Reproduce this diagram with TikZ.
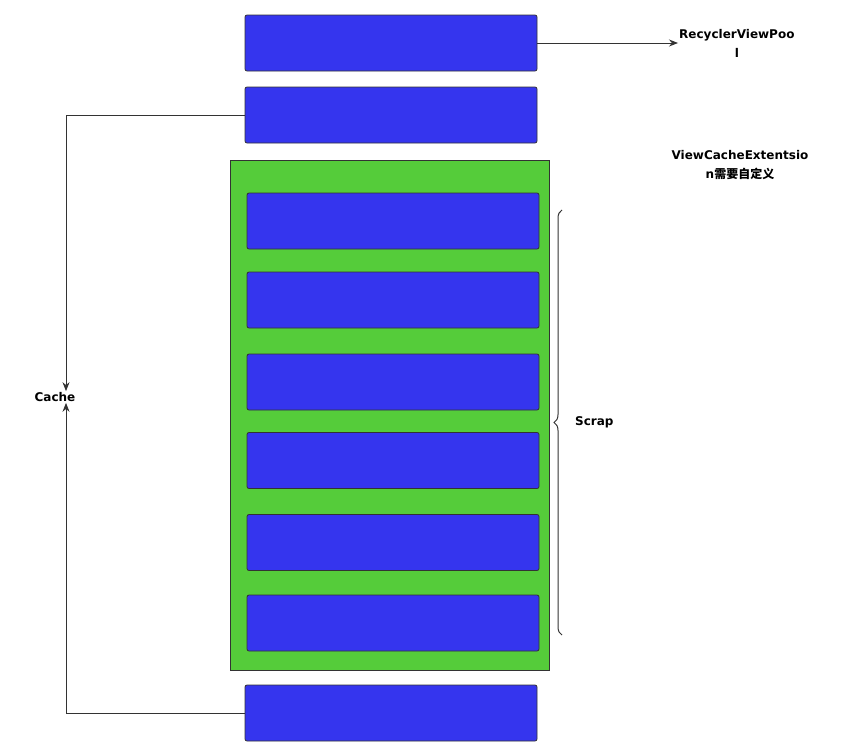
\documentclass[tikz,border=0pt]{standalone}
\usepackage{fontspec}
\setmainfont{DejaVu Sans}
\newfontfamily\cjk{Noto Sans CJK SC}
\usetikzlibrary{arrows.meta,decorations.pathreplacing}
\definecolor{bluebox}{HTML}{3535EE}
\definecolor{greenbox}{HTML}{55CC3A}
\begin{document}
\begin{tikzpicture}[x=1pt,y=-1pt,
  bbox/.style={draw=black!80,line width=0.8pt,fill=bluebox,rounded corners=2pt,minimum width=292pt,minimum height=56pt,inner sep=0pt},
  lbl/.style={font=\fontsize{12}{19}\selectfont\bfseries,align=center,inner sep=1pt},
  arr/.style={draw=black!80,line width=0.9pt,-{Stealth[length=9pt,width=7pt]}}]
\useasboundingbox (0,0) rectangle (866,755);
\node[draw=black!80,line width=0.9pt,fill=greenbox,minimum width=319pt,minimum height=510pt,inner sep=0pt] (g) at (389.5,415) {};
\node[bbox] (t1) at (391,43) {};
\node[bbox] (t2) at (391,115) {};
\foreach \i/\y in {1/221,2/300,3/382,4/460.5,5/542.5,6/623}
  \node[bbox] (s\i) at (393,\y) {};
\node[bbox] (b) at (391,713) {};
\node[lbl,anchor=west] (rvp) at (678,43) {RecyclerViewPoo\\l};
\node[lbl] (vce) at (740,165) {ViewCacheExtentsio\\n{\cjk\bfseries 需要自定义}};
\node[lbl] (cache) at (55,397) {Cache};
\coordinate (c1) at (66,115);
\coordinate (c2) at (66,713);
\draw[arr] (t1.east) -- (rvp.west);
\draw[arr] (t2.west) -- (c1) -- (cache.north -| c1);
\draw[arr] (b.west) -- (c2) -- (cache.south -| c2);
\draw[draw=black!80,line width=1pt,decorate,decoration={brace,mirror,amplitude=8pt}] (562,210) -- (562,635);
\node[lbl,anchor=west] (scrap) at (574,422) {Scrap};
\end{tikzpicture}
\end{document}
